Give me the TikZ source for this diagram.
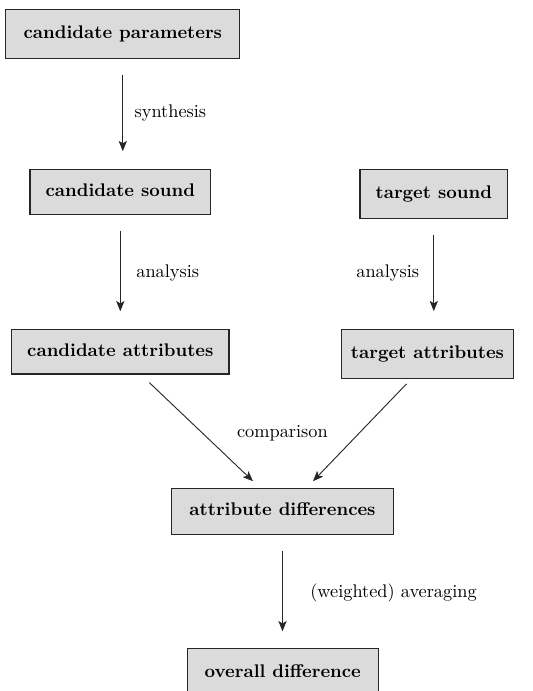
\documentclass[tikz,border=0pt]{standalone}
\usetikzlibrary{arrows.meta,calc}
\begin{document}
\begin{tikzpicture}[x=0.5464pt,y=-0.5464pt,
  stage/.style={draw=black!85,fill=black!14,line width=0.6pt,font=\bfseries,
    inner sep=0pt,text height=6.9pt,text depth=1.9pt},
  note/.style={anchor=west,inner sep=0pt,text height=6.9pt,text depth=1.9pt},
  arr/.style={-{Stealth[length=5.6pt,width=4.5pt,inset=1.3pt]},line width=0.5pt,black!85}]
\useasboundingbox (0,0) rectangle (533,691);
% processing stages
\node[stage,minimum width=128pt,minimum height=26.8pt] (cp) at (122.8,33.8) {candidate parameters};
\node[stage,minimum width=98.7pt,minimum height=24.6pt] (cs) at (120.3,191.8) {candidate sound};
\node[stage,minimum width=80.7pt,minimum height=26.8pt] (ts) at (433.8,193.8) {target sound};
\node[stage,minimum width=118.8pt,minimum height=24.4pt] (ca) at (120.3,351.7) {candidate attributes};
\node[stage,minimum width=93.8pt,minimum height=26.8pt] (ta) at (427.5,353.8) {target attributes};
\node[stage,minimum width=121.1pt,minimum height=25.1pt] (ad) at (282.5,511.3) {attribute differences};
\node[stage,minimum width=104.4pt,minimum height=26.8pt] (od) at (282.8,672.8) {overall difference};
% operations
\draw[arr,shorten <=8.6pt,shorten >=9.6pt] (cp.south) -- (cp.south |- cs.north);
\draw[arr,shorten <=8.6pt,shorten >=9.6pt] (cs.south) -- (cs.south |- ca.north);
\draw[arr,shorten <=8.6pt,shorten >=9.6pt] (ts.south) -- (ts.south |- ta.north);
\draw[arr] ($(ca.south)+(29,8)$) -- ($(ad.north)+(-29.5,-6.6)$);
\draw[arr] ($(ta.south)+(-21,5)$) -- ($(ad.north)+(30.5,-6.6)$);
\draw[arr,shorten <=8.6pt,shorten >=9pt] (ad.south) -- (ad.south |- od.north);
% operation labels
\node[note] (l1) at (134.3,113) {synthesis};
\node[note] (l2) at (136,273) {analysis};
\node[note] (l3) at (356,273) {analysis};
\node[note] (l4) at (236.7,432.7) {comparison};
\node[note] (l5) at (310,593.3) {(weighted) averaging};
\end{tikzpicture}
\end{document}
